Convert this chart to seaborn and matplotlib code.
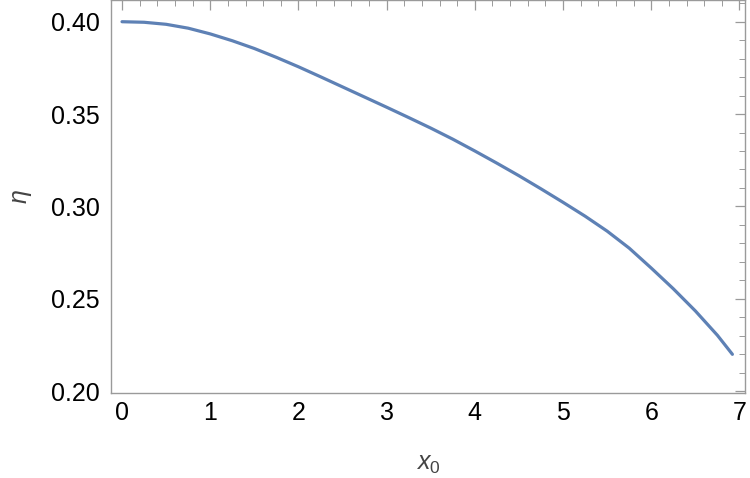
import matplotlib
matplotlib.use("Agg")
import matplotlib.pyplot as plt
import seaborn as sns
import pandas as pd
from matplotlib.ticker import MultipleLocator

x0_vals = [0.0, 0.25, 0.5, 0.75, 1.0, 1.25, 1.5, 1.75, 2.0, 2.25, 2.5, 2.75, 3.0, 3.25,
           3.5, 3.75, 4.0, 4.25, 4.5, 4.75, 5.0, 5.25, 5.5, 5.75, 6.0, 6.25, 6.5, 6.75, 6.92]
eta_vals = [0.4000, 0.3997, 0.3986, 0.3965, 0.3934, 0.3897, 0.3855, 0.3807, 0.3756, 0.3702,
            0.3647, 0.3592, 0.3537, 0.3481, 0.3424, 0.3364, 0.3300, 0.3234, 0.3166, 0.3095,
            0.3022, 0.2947, 0.2866, 0.2774, 0.2666, 0.2554, 0.2434, 0.2302, 0.2199]
x_ticks = [0, 1, 2, 3, 4, 5, 6, 7]
y_ticks = [0.20, 0.25, 0.30, 0.35, 0.40]

sns.set_theme(style="white")
plt.rcParams['font.family'] = ['Liberation Sans', 'DejaVu Sans']
plt.rcParams['mathtext.fontset'] = 'custom'
plt.rcParams['mathtext.rm'] = 'Liberation Sans'
plt.rcParams['mathtext.it'] = 'Liberation Sans:italic'

df = pd.DataFrame({"x0": x0_vals, "eta": eta_vals})

fig = plt.figure(figsize=(7.5, 4.78), dpi=100)
ax = fig.add_axes([0.148, 0.178, 0.993 - 0.148, 0.999 - 0.178])
sns.lineplot(data=df, x="x0", y="eta", ax=ax, color="#5E81B5", linewidth=2.3)

ax.set_xlim(-0.125, 7.06)
ax.set_ylim(0.199, 0.4115)
ax.set_xticks(x_ticks)
ax.set_yticks(y_ticks)
ax.set_xticklabels([str(t) for t in x_ticks])
ax.set_yticklabels([f"{t:.2f}" for t in y_ticks])
ax.xaxis.set_minor_locator(MultipleLocator(0.2))
ax.yaxis.set_minor_locator(MultipleLocator(0.01))

gray = "#9a9a9a"
for s in ax.spines.values():
    s.set_visible(True)
    s.set_color(gray)
    s.set_linewidth(1.0)

ax.tick_params(which="both", direction="in", top=True, right=True, color=gray,
               labelsize=18, labelcolor="black")
ax.tick_params(which="major", length=7, width=0.9)
ax.tick_params(which="minor", length=4, width=0.7)
ax.tick_params(axis="x", which="major", pad=6)
ax.tick_params(axis="y", which="major", pad=8)

ax.set_xlabel(r"$x_{\mathrm{0}}$", fontsize=18, color="#444444", labelpad=19)
ax.set_ylabel(r"$\eta$", fontsize=18, color="#444444", labelpad=12, rotation=90)
ax.grid(False)

fig.savefig("out.png", dpi=100)
